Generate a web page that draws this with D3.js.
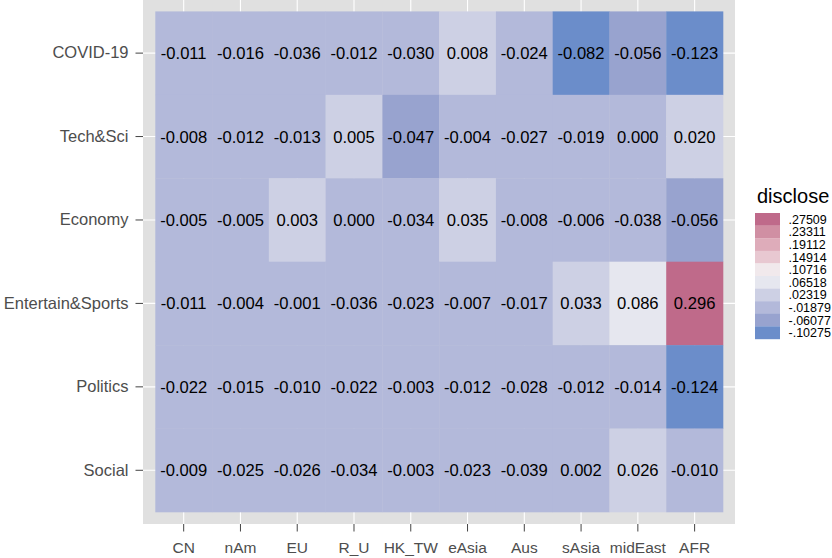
<!DOCTYPE html>
<html>
<head>
    <meta charset="utf-8">
    <title>disclose heatmap</title>
    <script src="https://d3js.org/d3.v7.min.js"></script>
    <style>
        body { margin: 0; background: #fff; }
        text { font-family: "Liberation Sans", Arial, sans-serif; }
    </style>
</head>
<body>
    <div id="chart"></div>
    <script>

        // data
        var regions = ["CN", "nAm", "EU", "R_U", "HK_TW", "eAsia", "Aus", "sAsia", "midEast", "AFR"];
        var topics = ["COVID-19", "Tech&Sci", "Economy", "Entertain&Sports", "Politics", "Social"];
        var covid     = [-0.011, -0.016, -0.036, -0.012, -0.030, 0.008, -0.024, -0.082, -0.056, -0.123];
        var techSci   = [-0.008, -0.012, -0.013, 0.005, -0.047, -0.004, -0.027, -0.019, 0.000, 0.020];
        var economy   = [-0.005, -0.005, 0.003, 0.000, -0.034, 0.035, -0.008, -0.006, -0.038, -0.056];
        var entertain = [-0.011, -0.004, -0.001, -0.036, -0.023, -0.007, -0.017, 0.033, 0.086, 0.296];
        var politics  = [-0.022, -0.015, -0.010, -0.022, -0.003, -0.012, -0.028, -0.012, -0.014, -0.124];
        var social    = [-0.009, -0.025, -0.026, -0.034, -0.003, -0.023, -0.039, 0.002, 0.026, -0.010];
        var rows = [covid, techSci, economy, entertain, politics, social];

        // legend steps (low -> high)
        var legendValues = [-0.10275, -0.06077, -0.01879, 0.02319, 0.06518, 0.10716, 0.14914, 0.19112, 0.23311, 0.27509];
        var legendColors = ["#6b8dca", "#98a3cf", "#b3b9da", "#cdd0e4", "#e6e7ef",
                            "#f1e9ec", "#e8c8d1", "#deacba", "#d08fa3", "#bf6a8a"];

        var cells = [];
        topics.forEach(function(t, i) {
            regions.forEach(function(r, j) {
                cells.push({ topic: t, region: r, value: rows[i][j] });
            });
        });

        // plain hyphen instead of unicode minus
        var fmt3 = function(v) { return d3.format(".3f")(v).replace("\u2212", "-"); };
        var fmt5 = function(v) { return d3.format(".5f")(v).replace("\u2212", "-").replace("0.", "."); };

        var width = 832, height = 558;
        var panel = { left: 143, right: 735, top: 0, bottom: 524 };

        var svg = d3.select("#chart")
            .append("svg")
            .attr("width", width)
            .attr("height", height);

        var x = d3.scaleBand()
            .domain(regions)
            .range([panel.left + 12.3, panel.right - 12]);

        var y = d3.scaleBand()
            .domain(topics)
            .range([panel.top + 11.4, panel.bottom - 12]);

        var thresholds = d3.pairs(legendValues).map(function(p) { return (p[0] + p[1]) / 2; });
        var color = d3.scaleThreshold()
            .domain(thresholds)
            .range(legendColors);

        // panel background
        svg.append("rect")
            .attr("x", panel.left)
            .attr("y", panel.top)
            .attr("width", panel.right - panel.left)
            .attr("height", panel.bottom - panel.top)
            .attr("fill", "#e0e0e0");

        // grid
        svg.append("g").selectAll("line")
            .data(regions)
            .enter()
            .append("line")
            .attr("x1", function(d) { return x(d) + x.bandwidth() / 2; })
            .attr("x2", function(d) { return x(d) + x.bandwidth() / 2; })
            .attr("y1", panel.top)
            .attr("y2", panel.bottom)
            .attr("stroke", "#fff")
            .attr("stroke-width", 1.1);

        svg.append("g").selectAll("line")
            .data(topics)
            .enter()
            .append("line")
            .attr("y1", function(d) { return y(d) + y.bandwidth() / 2; })
            .attr("y2", function(d) { return y(d) + y.bandwidth() / 2; })
            .attr("x1", panel.left)
            .attr("x2", panel.right)
            .attr("stroke", "#fff")
            .attr("stroke-width", 1.1);

        // tiles
        svg.append("g").selectAll("rect")
            .data(cells)
            .enter()
            .append("rect")
            .attr("x", function(d) { return x(d.region); })
            .attr("y", function(d) { return y(d.topic); })
            .attr("width", x.bandwidth() + 0.3)
            .attr("height", y.bandwidth() + 0.3)
            .attr("fill", function(d) { return color(d.value); });

        svg.append("g").selectAll("text")
            .data(cells)
            .enter()
            .append("text")
            .attr("x", function(d) { return x(d.region) + x.bandwidth() / 2; })
            .attr("y", function(d) { return y(d.topic) + y.bandwidth() / 2; })
            .attr("dy", "0.36em")
            .style("text-anchor", "middle")
            .style("font-size", "16.6px")
            .style("fill", "#000")
            .text(function(d) { return fmt3(d.value); });

        // axes
        var yAxis = svg.append("g")
            .attr("transform", `translate(${panel.left}, 0)`)
            .call(d3.axisLeft(y).tickSize(7.5).tickPadding(7));
        yAxis.select(".domain").remove();
        yAxis.selectAll("line").attr("stroke", "#444");
        yAxis.selectAll("text")
            .style("font-size", "16.5px")
            .style("fill", "#4d4d4d")
            .style("font-family", "'Liberation Sans', Arial, sans-serif");

        var xAxis = svg.append("g")
            .attr("transform", `translate(0, ${panel.bottom})`)
            .call(d3.axisBottom(x).tickSize(7.5).tickPadding(10.5));
        xAxis.select(".domain").remove();
        xAxis.selectAll("line").attr("stroke", "#444");
        xAxis.selectAll("text")
            .style("font-size", "15.5px")
            .style("fill", "#4d4d4d")
            .style("font-family", "'Liberation Sans', Arial, sans-serif");

        // legend
        var legend = svg.append("g").attr("transform", "translate(755, 0)");
        var keyH = 12.6, keyTop = 213;

        legend.append("text")
            .attr("x", 2)
            .attr("y", 203)
            .style("font-size", "20px")
            .style("fill", "#000")
            .text("disclose");

        var steps = legendValues.slice().reverse();

        legend.selectAll("rect")
            .data(steps)
            .enter()
            .append("rect")
            .attr("x", 0)
            .attr("y", function(d, i) { return keyTop + i * keyH; })
            .attr("width", 25)
            .attr("height", keyH + 0.2)
            .attr("fill", function(d) { return color(d); });

        legend.selectAll(".lab")
            .data(steps)
            .enter()
            .append("text")
            .attr("class", "lab")
            .attr("x", 33.5)
            .attr("y", function(d, i) { return keyTop + i * keyH + keyH / 2; })
            .attr("dy", "0.36em")
            .style("font-size", "12.5px")
            .style("fill", "#000")
            .text(function(d) { return fmt5(d); });

    </script>
</body>
</html>
